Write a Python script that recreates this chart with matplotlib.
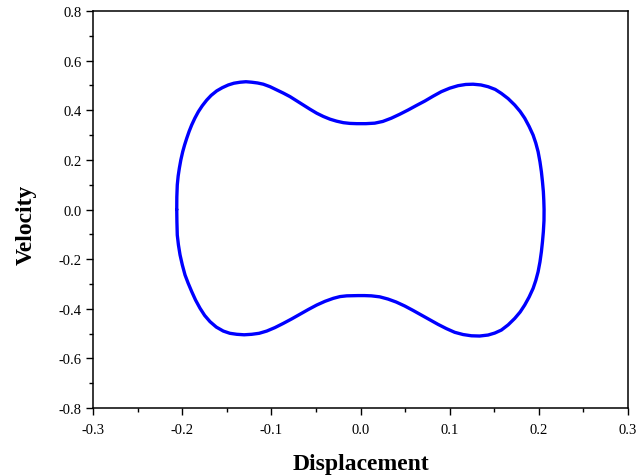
import numpy as np
import matplotlib
matplotlib.use("Agg")
import matplotlib.pyplot as plt
from matplotlib.ticker import MultipleLocator, FormatStrFormatter

# Phase trajectory, upper branch (left -> right)
upper_disp = [-0.2061, -0.2060, -0.2055, -0.2045, -0.2032, -0.2015, -0.1994, -0.1973,
              -0.1949, -0.1922, -0.1893, -0.1858, -0.1819, -0.1775, -0.1725, -0.1675,
              -0.1613, -0.1550, -0.1483, -0.1420, -0.1351, -0.1285, -0.1220, -0.1155,
              -0.1090, -0.1015, -0.0940, -0.0865, -0.0791, -0.0716, -0.0641, -0.0566,
              -0.0491, -0.0417, -0.0342, -0.0268, -0.0193, -0.0118, -0.0043, 0.0060,
              0.0159, 0.0250, 0.0345, 0.0440, 0.0533, 0.0625, 0.0720, 0.0815,
              0.0906, 0.1000, 0.1093, 0.1180, 0.1262, 0.1350, 0.1430, 0.1510,
              0.1579, 0.1655, 0.1729, 0.1790, 0.1841, 0.1890, 0.1935, 0.1965,
              0.1991, 0.2012, 0.2028, 0.2040, 0.2050, 0.2055, 0.2058]
upper_vel = [0.000, 0.050, 0.099, 0.135, 0.166, 0.200, 0.233, 0.260,
             0.287, 0.315, 0.341, 0.368, 0.394, 0.418, 0.441, 0.460,
             0.478, 0.491, 0.502, 0.509, 0.513, 0.515, 0.513, 0.510,
             0.505, 0.495, 0.482, 0.469, 0.455, 0.438, 0.421, 0.404,
             0.388, 0.375, 0.364, 0.356, 0.350, 0.347, 0.346, 0.346,
             0.348, 0.355, 0.368, 0.384, 0.401, 0.419, 0.437, 0.457,
             0.475, 0.489, 0.499, 0.504, 0.505, 0.502, 0.495, 0.484,
             0.468, 0.447, 0.421, 0.395, 0.368, 0.335, 0.300, 0.268,
             0.233, 0.192, 0.152, 0.112, 0.072, 0.036, 0.000]

# Lower branch (right -> left)
lower_disp = [0.2057, 0.2050, 0.2040, 0.2028, 0.2012, 0.1991, 0.1965, 0.1935,
              0.1890, 0.1841, 0.1790, 0.1729, 0.1655, 0.1579, 0.1505, 0.1430,
              0.1335, 0.1243, 0.1150, 0.1056, 0.0962, 0.0869, 0.0775, 0.0682,
              0.0590, 0.0496, 0.0400, 0.0308, 0.0215, 0.0121, 0.0045, -0.0028,
              -0.0155, -0.0230, -0.0305, -0.0398, -0.0491, -0.0585, -0.0678, -0.0772,
              -0.0866, -0.0960, -0.1052, -0.1137, -0.1220, -0.1305, -0.1388, -0.1465,
              -0.1539, -0.1617, -0.1688, -0.1748, -0.1800, -0.1850, -0.1893, -0.1933,
              -0.1968, -0.1998, -0.2024, -0.2042, -0.2055, -0.2059, -0.2061]
lower_vel = [-0.045, -0.089, -0.130, -0.170, -0.211, -0.251, -0.286, -0.318,
             -0.353, -0.385, -0.413, -0.439, -0.465, -0.486, -0.498, -0.506,
             -0.510, -0.509, -0.504, -0.495, -0.480, -0.463, -0.444, -0.425,
             -0.407, -0.389, -0.373, -0.361, -0.352, -0.348, -0.347, -0.347,
             -0.348, -0.351, -0.358, -0.370, -0.385, -0.403, -0.422, -0.441,
             -0.459, -0.476, -0.490, -0.499, -0.503, -0.505, -0.503, -0.499,
             -0.490, -0.474, -0.452, -0.427, -0.398, -0.365, -0.331, -0.297,
             -0.264, -0.224, -0.183, -0.143, -0.103, -0.050, 0.000]

plt.rcParams["axes.unicode_minus"] = False
plt.rcParams["font.family"] = ["Liberation Serif", "DejaVu Serif"]

fig = plt.figure(figsize=(6.37, 4.77), dpi=100)
ax = fig.add_axes([0.146, 0.1426, 0.840, 0.8322])

disp = np.concatenate([upper_disp, lower_disp])
vel = np.concatenate([upper_vel, lower_vel])
ax.plot(disp, vel, color="#0000FF", lw=2.4, solid_joinstyle="round",
        solid_capstyle="round")

ax.set_xlim(-0.3, 0.3)
ax.set_ylim(-0.8, 0.8)
ax.xaxis.set_major_locator(MultipleLocator(0.1))
ax.xaxis.set_minor_locator(MultipleLocator(0.05))
ax.yaxis.set_major_locator(MultipleLocator(0.2))
ax.yaxis.set_minor_locator(MultipleLocator(0.1))
ax.xaxis.set_major_formatter(FormatStrFormatter("%.1f"))
ax.yaxis.set_major_formatter(FormatStrFormatter("%.1f"))

ax.tick_params(which="major", direction="out", length=5, width=1.0,
               labelsize=10.5, top=False, right=False)
ax.tick_params(axis="x", which="major", pad=6)
ax.tick_params(axis="y", which="major", pad=3)
ax.tick_params(which="minor", direction="out", length=3, width=1.0,
               top=False, right=False)
for sp in ax.spines.values():
    sp.set_linewidth(1.1)

ax.set_xlabel("Displacement", fontsize=17, fontweight="bold", labelpad=12)
ax.set_ylabel("Velocity", fontsize=17, fontweight="bold", labelpad=16)
ax.yaxis.label.set_y(0.463)

fig.savefig("out.png", dpi=100)
